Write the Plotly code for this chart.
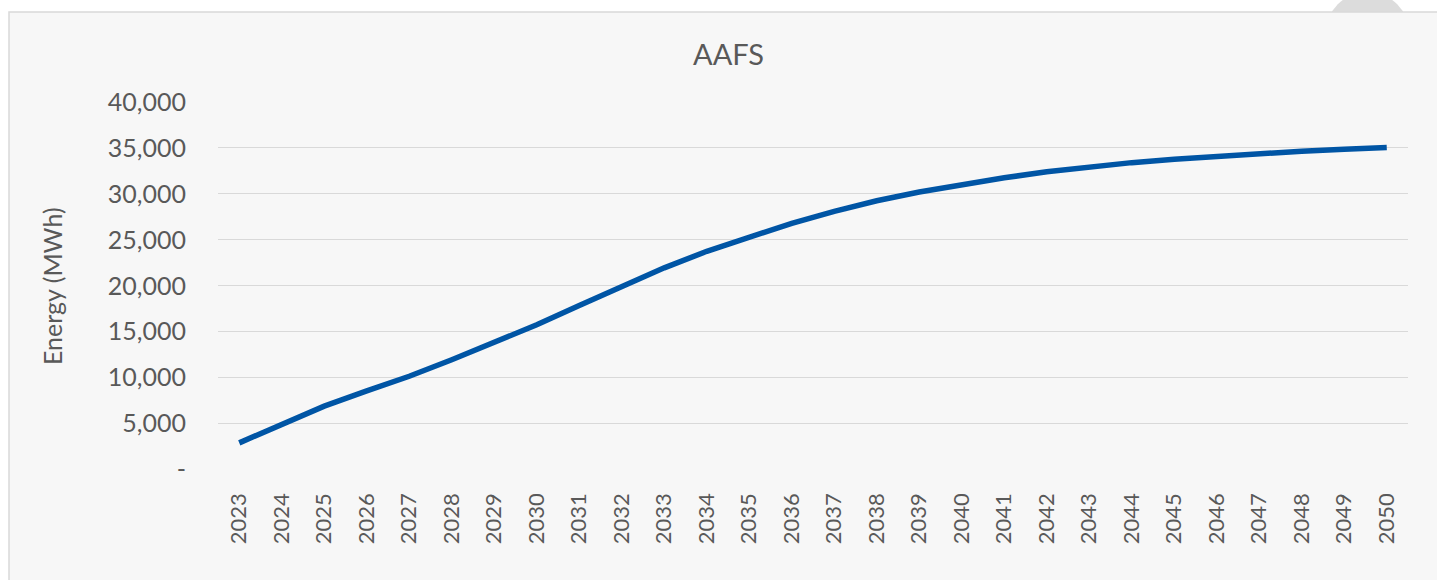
import plotly.graph_objects as go

years = [str(y) for y in range(2023, 2051)]
energy_mwh = [2900, 4900, 6900, 8550, 10150, 11950, 13800, 15750, 17850, 19900,
              21950, 23750, 25300, 26800, 28100, 29250, 30200, 31000, 31750, 32400,
              32950, 33400, 33780, 34110, 34400, 34650, 34860, 35050]
y_tick_vals = [0, 5000, 10000, 15000, 20000, 25000, 30000, 35000, 40000]
y_tick_text = ["-", "5,000", "10,000", "15,000", "20,000", "25,000", "30,000", "35,000", "40,000"]

W, H = 1437, 580
px = lambda x: x / W
py = lambda y: 1 - y / H

FONT = "Lato"
TXT = "#595959"

fig = go.Figure()
fig.add_trace(go.Scatter(
    x=years, y=energy_mwh, mode="lines",
    line=dict(color="#0055A5", width=5.5),
    hoverinfo="x+y", showlegend=False,
))

fig.update_layout(
    width=W, height=H, autosize=False,
    margin=dict(l=0, r=0, t=0, b=0, autoexpand=False),
    paper_bgcolor="white",
    plot_bgcolor="rgba(0,0,0,0)",
    font=dict(family=FONT, color=TXT, size=22),
    title=dict(text="AAFS", x=728.5 / W, xanchor="center", y=py(55), yanchor="middle",
               automargin=False, font=dict(family=FONT, size=29, color=TXT)),
    xaxis=dict(
        type="category", domain=[px(218), px(1408)], range=[-0.5, 27.5],
        automargin=False,
        showgrid=False, zeroline=False, showline=False,
        tickangle=-90, ticks="outside", ticklen=14, tickcolor="rgba(0,0,0,0)",
        tickfont=dict(family=FONT, size=22, color=TXT),
    ),
    yaxis=dict(
        domain=[py(469.5), py(102)], range=[0, 40000],
        automargin=False,
        tickvals=y_tick_vals, ticktext=y_tick_text,
        showgrid=True, gridcolor="#d9d9d9", gridwidth=1.3,
        zeroline=False, showline=False,
        ticks="outside", ticklen=26, tickcolor="rgba(0,0,0,0)",
        tickfont=dict(family=FONT, size=25, color=TXT),
    ),
    shapes=[
        dict(type="circle", xref="paper", yref="paper", layer="below",
             x0=px(1367.5 - 42), x1=px(1367.5 + 42), y0=py(34 + 42), y1=py(34 - 42),
             fillcolor="#dcdcdc", line=dict(width=0)),
        dict(type="rect", xref="paper", yref="paper", layer="below",
             x0=px(9), x1=px(1460), y0=py(600), y1=py(12),
             fillcolor="#f7f7f7", line=dict(color="#d9d9d9", width=1.5)),
    ],
    annotations=[
        dict(text="Energy (MWh)", xref="paper", yref="paper", x=px(52), y=py(286),
             xanchor="center", yanchor="middle", textangle=-90, showarrow=False,
             font=dict(family=FONT, size=25, color=TXT)),
    ],
)

fig.write_html("out.html")
